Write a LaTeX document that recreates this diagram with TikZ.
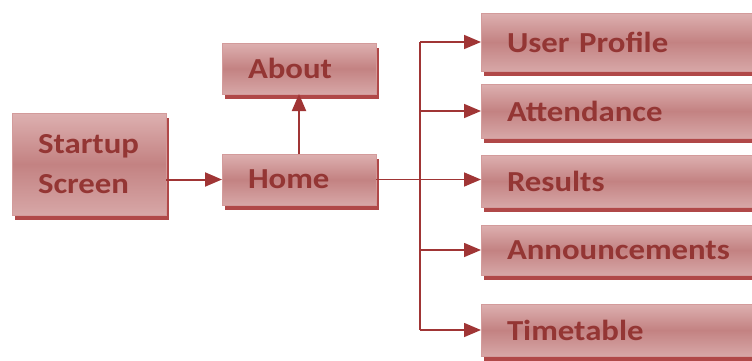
\documentclass[tikz,border=0pt]{standalone}
\usepackage{fontspec}
\setmainfont[FakeStretch=1.13]{Carlito}
\usetikzlibrary{shadows,arrows.meta}
\definecolor{boxtop}{HTML}{DDB0B0}
\definecolor{boxmid}{HTML}{C38282}
\definecolor{boxbot}{HTML}{D7A7A7}
\definecolor{boxline}{HTML}{D39B9B}
\definecolor{shadowc}{HTML}{B04848}
\definecolor{txtc}{HTML}{943634}
\definecolor{linec}{HTML}{A03535}
\begin{document}
\begin{tikzpicture}[x=1pt,y=-1pt,
  box/.style={draw=boxline, line width=0.8pt, top color=boxtop, bottom color=boxbot, middle color=boxmid,
    anchor=north west, inner xsep=26pt, inner ysep=0pt, outer sep=0pt, align=left,
    font=\fontsize{29}{40}\selectfont\bfseries, text=txtc,
    drop shadow={shadow xshift=3pt, shadow yshift=-4.5pt, fill=shadowc, opacity=1}},
  lbox/.style={box, text width=102pt},
  rbox/.style={box, text width=248pt},
  conn/.style={draw=linec, line width=1.6pt},
  arr/.style={conn, -{Triangle[length=17pt,width=14pt]}}]
\useasboundingbox (0,0) rectangle (752,360);
\clip (0,0) rectangle (752,360);
\node[lbox, minimum height=102pt] (start) at (12,113) {Startup\\Screen};
\node[lbox, minimum height=51pt] (about) at (222,43) {About};
\node[lbox, minimum height=51pt] (home) at (222,154) {Home};
\node[rbox, minimum height=58pt] (up) at (481,13) {User Profile};
\node[rbox, minimum height=54pt] (att) at (481,84) {Attendance};
\node[rbox, minimum height=52pt] (res) at (481,155) {Results};
\node[rbox, minimum height=50pt] (ann) at (481,225) {Announcements};
\node[rbox, minimum height=52pt] (tt) at (481,304) {Timetable};
\coordinate (bx) at (420,0);
\draw[arr, line width=2pt] (start.east |- home.west) -- (home.west);
\draw[arr, line width=2pt] (home.north) -- (about.south);
\draw[conn] (bx |- up.west) -- (bx |- tt.west);
\draw[arr] (home.east) -- (home.east -| res.west);
\foreach \n in {up,att,ann,tt}{
  \draw[arr] (bx |- \n.west) -- (\n.west);
}
\end{tikzpicture}
\end{document}
